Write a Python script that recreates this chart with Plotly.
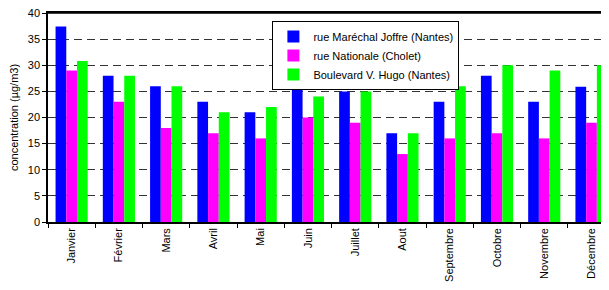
import plotly.graph_objects as go

months = ["Janvier", "Février", "Mars", "Avril", "Mai", "Juin", "Juillet", "Aout",
          "Septembre", "Octobre", "Novembre", "Décembre"]
joffre = [37.4, 28, 26, 23, 21, 27, 25, 17, 23, 28, 23, 25.9]
nationale = [29, 23, 18, 17, 16, 20, 19, 13, 16, 17, 16, 19]
hugo = [30.8, 28, 26, 21, 22, 24, 25, 17, 26, 30, 29, 30]

series = [
    ("rue Maréchal Joffre (Nantes)", joffre, "#0000FF"),
    ("rue Nationale (Cholet)", nationale, "#FF00FF"),
    ("Boulevard V. Hugo (Nantes)", hugo, "#00FF00"),
]

fig = go.Figure()
for name, vals, col in series:
    fig.add_trace(go.Bar(x=months, y=vals, name=name, marker=dict(color=col, line=dict(width=0))))

FONT = "Liberation Sans, Arial, sans-serif"
fig.update_layout(
    width=601, height=282,
    margin=dict(l=40, r=0, t=5, b=68, pad=0, autoexpand=False),
    paper_bgcolor="white", plot_bgcolor="white",
    font=dict(family=FONT, size=11, color="black"),
    barmode="group", bargap=0.32, bargroupgap=0,
    showlegend=True,
    legend=dict(x=0.40, y=0.962, xanchor="left", yanchor="top",
                bgcolor="white", bordercolor="black", borderwidth=1,
                font=dict(family=FONT, size=11, color="black"),
                itemwidth=30, tracegroupgap=0),
)
fig.update_xaxes(
    range=[-0.5, 11.37], tickangle=-90, tickson="boundaries", automargin=False,
    ticks="outside", ticklen=4, tickcolor="black", ticklabeloverflow="allow",
    showline=True, linecolor="black", linewidth=1.5, mirror=True,
    showgrid=False, fixedrange=True,
)
fig.update_yaxes(
    range=[0, 40], dtick=5, ticks="outside", ticklen=4, tickcolor="black", automargin=False,
    ticklabeloverflow="allow",
    showline=True, linecolor="black", linewidth=1.5,
    showgrid=True, gridcolor="#333333", gridwidth=1, griddash="8px,5px",
    zeroline=False,
    title=dict(text="concentration (µg/m3)", standoff=15,
               font=dict(family=FONT, size=11, color="black")),
)
fig.add_shape(type="line", xref="paper", yref="paper", x0=0, x1=1, y0=1, y1=1,
              line=dict(color="black", width=1.5), layer="above")
fig.write_html("out.html", config={"displayModeBar": False})
